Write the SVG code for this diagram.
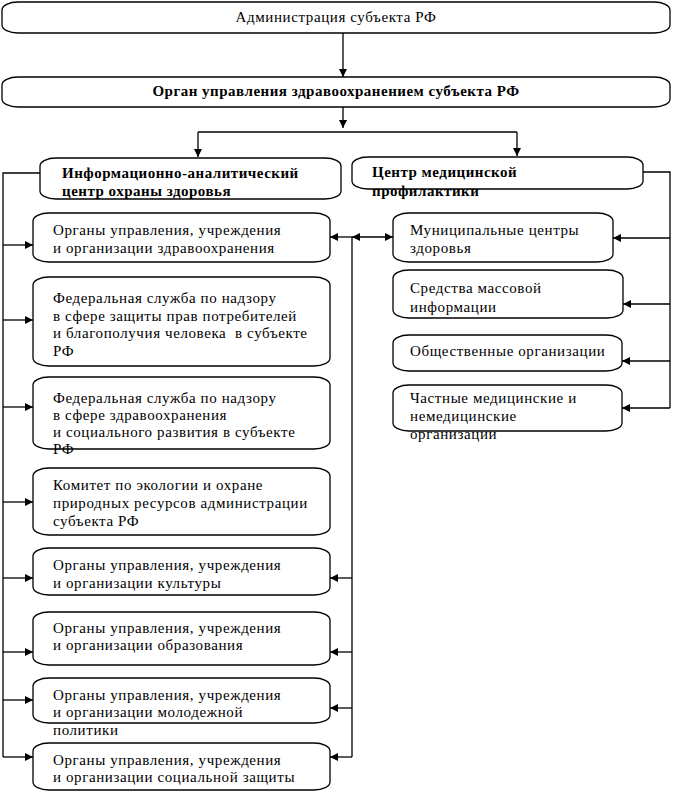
<svg xmlns="http://www.w3.org/2000/svg" width="673" height="792" viewBox="0 0 673 792">
<defs>
<marker id="ah" markerUnits="userSpaceOnUse" markerWidth="9" markerHeight="8" refX="8" refY="4" orient="auto-start-reverse">
<path d="M0,0 L8,4 L0,8 z" fill="#000"/>
</marker>
<style>
.box{fill:#fff;stroke:#000;stroke-width:1.3}
.t{font-family:'Liberation Serif','DejaVu Serif',serif;font-size:15px;letter-spacing:0.6px;fill:#000}
.b{font-family:'Liberation Serif','DejaVu Serif',serif;font-size:15px;font-weight:bold;letter-spacing:0.5px;fill:#000}
.c{text-anchor:middle}
.ln{fill:none;stroke:#000;stroke-width:1.3}
.ar{fill:none;stroke:#000;stroke-width:1.3;marker-end:url(#ah)}
</style>
</defs>
<g id="connectors">
<line class="ar" x1="343" y1="33" x2="343" y2="77"/>
<line class="ar" x1="343" y1="107" x2="343" y2="128"/>
<polyline class="ln" points="198,132 517,132"/>
<line class="ar" x1="198" y1="132" x2="198" y2="157"/>
<line class="ar" x1="517" y1="132" x2="517" y2="156"/>
<polyline class="ln" points="40,173 3,173 3,757"/>
<line class="ar" x1="3" y1="245" x2="33" y2="245"/>
<line class="ar" x1="3" y1="320" x2="33" y2="320"/>
<line class="ar" x1="3" y1="407" x2="33" y2="407"/>
<line class="ar" x1="3" y1="502" x2="33" y2="502"/>
<line class="ar" x1="3" y1="578" x2="33" y2="578"/>
<line class="ar" x1="3" y1="652" x2="33" y2="652"/>
<line class="ar" x1="3" y1="700" x2="33" y2="700"/>
<line class="ar" x1="3" y1="757" x2="33" y2="757"/>
<line class="ar" x1="352" y1="237" x2="393" y2="237" style="marker-start:url(#ah)"/>
<line class="ar" x1="352" y1="237" x2="330" y2="237"/>
<polyline class="ln" points="352,237 352,757"/>
<line class="ar" x1="352" y1="578" x2="330" y2="578"/>
<line class="ar" x1="352" y1="652" x2="330" y2="652"/>
<line class="ar" x1="352" y1="708" x2="330" y2="708"/>
<line class="ar" x1="352" y1="757" x2="330" y2="757"/>
<polyline class="ln" points="643,172 670,172 670,408"/>
<line class="ar" x1="670" y1="238" x2="613" y2="238"/>
<line class="ar" x1="670" y1="304" x2="623" y2="304"/>
<line class="ar" x1="670" y1="361" x2="622" y2="361"/>
<line class="ar" x1="670" y1="408" x2="622" y2="408"/>
</g>
<g id="admin">
<rect class="box" x="2" y="2" width="668" height="31" rx="16" ry="8"/>
<text class="t c" x="336" y="22">Администрация субъекта РФ</text>
</g>
<g id="organ">
<rect class="box" x="2" y="77" width="668" height="30" rx="16" ry="8"/>
<text class="b c" x="336" y="96">Орган управления здравоохранением субъекта РФ</text>
</g>
<g id="info">
<rect class="box" x="40" y="158" width="301" height="41" rx="16" ry="8"/>
<text class="b" x="62" y="178">Информационно-аналитический</text>
<text class="b" x="62" y="196">центр охраны здоровья</text>
</g>
<g id="center">
<rect class="box" x="352" y="157" width="291" height="32" rx="16" ry="8"/>
<text class="b" x="372" y="177">Центр медицинской</text>
<text class="b" x="372" y="196">профилактики</text>
</g>
<g id="l1">
<rect class="box" x="33" y="213" width="297" height="49" rx="16" ry="8"/>
<text class="t" x="53" y="235">Органы управления, учреждения</text>
<text class="t" x="53" y="253">и организации здравоохранения</text>
</g>
<g id="l2">
<rect class="box" x="33" y="277" width="297" height="89" rx="16" ry="8"/>
<text class="t" x="53" y="303">Федеральная служба по надзору</text>
<text class="t" x="53" y="320.5">в сфере защиты прав потребителей</text>
<text class="t" x="53" y="338" xml:space="preserve">и благополучия человека  в субъекте</text>
<text class="t" x="53" y="355.5">РФ</text>
</g>
<g id="l3">
<rect class="box" x="33" y="377" width="297" height="72" rx="16" ry="8"/>
<text class="t" x="53" y="403">Федеральная служба по надзору</text>
<text class="t" x="53" y="420">в сфере здравоохранения</text>
<text class="t" x="53" y="437">и социального развития в субъекте</text>
<text class="t" x="53" y="454">РФ</text>
</g>
<g id="l4">
<rect class="box" x="33" y="468" width="297" height="67" rx="16" ry="8"/>
<text class="t" x="53" y="490">Комитет по экологии и охране</text>
<text class="t" x="53" y="508">природных ресурсов администрации</text>
<text class="t" x="53" y="526">субъекта РФ</text>
</g>
<g id="l5">
<rect class="box" x="33" y="548" width="297" height="47" rx="16" ry="8"/>
<text class="t" x="53" y="570">Органы управления, учреждения</text>
<text class="t" x="53" y="588">и организации культуры</text>
</g>
<g id="l6">
<rect class="box" x="33" y="612" width="297" height="53" rx="16" ry="8"/>
<text class="t" x="53" y="633">Органы управления, учреждения</text>
<text class="t" x="53" y="650">и организации образования</text>
</g>
<g id="l7">
<rect class="box" x="33" y="678" width="297" height="45" rx="16" ry="8"/>
<text class="t" x="53" y="700">Органы управления, учреждения</text>
<text class="t" x="53" y="717">и организации молодежной</text>
<text class="t" x="53" y="735">политики</text>
</g>
<g id="l8">
<rect class="box" x="33" y="743" width="297" height="47" rx="16" ry="8"/>
<text class="t" x="53" y="765">Органы управления, учреждения</text>
<text class="t" x="53" y="782">и организации социальной защиты</text>
</g>
<g id="r1">
<rect class="box" x="393" y="213" width="220" height="49" rx="16" ry="8"/>
<text class="t" x="410" y="235">Муниципальные центры</text>
<text class="t" x="410" y="253">здоровья</text>
</g>
<g id="r2">
<rect class="box" x="393" y="270" width="230" height="48" rx="16" ry="8"/>
<text class="t" x="410" y="293">Средства массовой</text>
<text class="t" x="410" y="312">информации</text>
</g>
<g id="r3">
<rect class="box" x="393" y="335" width="229" height="36" rx="16" ry="8"/>
<text class="t" x="410" y="356">Общественные организации</text>
</g>
<g id="r4">
<rect class="box" x="393" y="385" width="229" height="46" rx="16" ry="8"/>
<text class="t" x="410" y="403">Частные медицинские и</text>
<text class="t" x="410" y="421">немедицинские</text>
<text class="t" x="410" y="439">организации</text>
</g>
</svg>
